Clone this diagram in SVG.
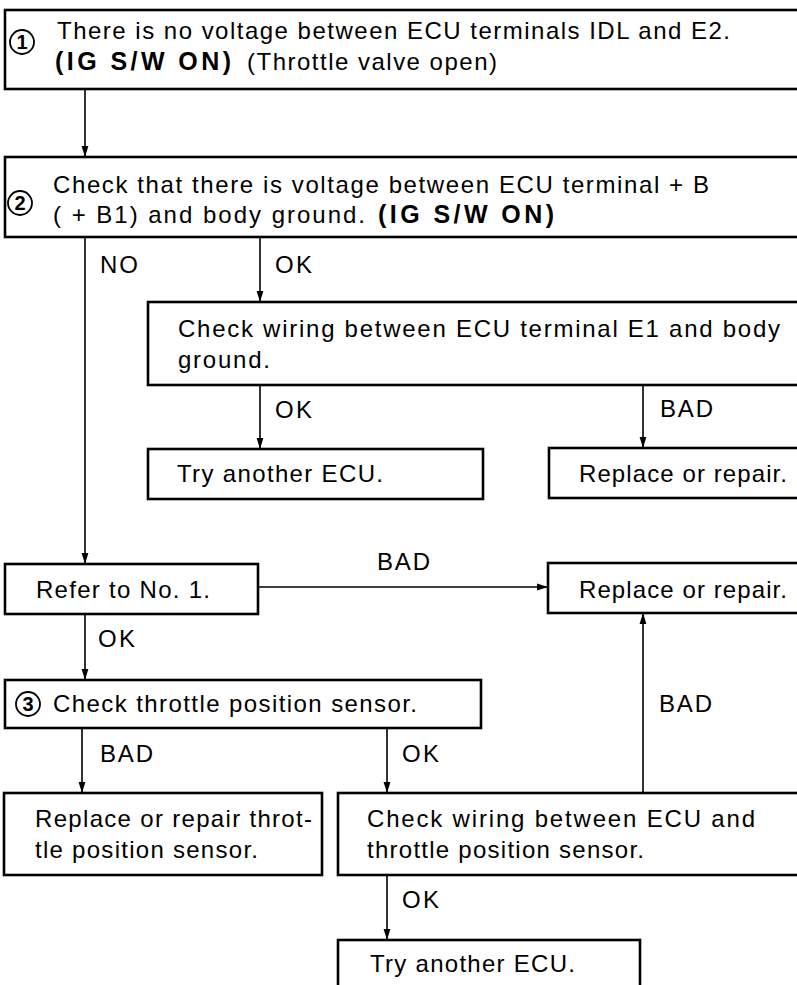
<svg xmlns="http://www.w3.org/2000/svg" width="797" height="985" viewBox="0 0 797 985">
<defs>
<marker id="arr" markerUnits="userSpaceOnUse" markerWidth="12" markerHeight="8" refX="11" refY="4" orient="auto"><path d="M0,0.6 L11,4 L0,7.4 Z" fill="#000"/></marker>
<style>
.box{fill:#fff;stroke:#000;stroke-width:2.6}
.t{font-family:"Liberation Sans",Arial,sans-serif;font-size:24px;fill:#000}
.b{font-weight:bold;font-size:25px}
.ci{fill:none;stroke:#000;stroke-width:1.8}
.n{font-family:"Liberation Sans",Arial,sans-serif;font-size:20px;font-weight:bold;text-anchor:middle;fill:#000}
.ln{stroke:#000;stroke-width:1.6;fill:none}
</style>
</defs>
<rect x="0" y="0" width="797" height="985" fill="#fff"/>

<g id="connectors">
<line class="ln" x1="85" y1="89" x2="85" y2="157" marker-end="url(#arr)"/>
<line class="ln" x1="85" y1="237" x2="85" y2="564" marker-end="url(#arr)"/>
<line class="ln" x1="260" y1="237" x2="260" y2="302" marker-end="url(#arr)"/>
<line class="ln" x1="260" y1="385" x2="260" y2="449" marker-end="url(#arr)"/>
<line class="ln" x1="643" y1="385" x2="643" y2="448" marker-end="url(#arr)"/>
<line class="ln" x1="258" y1="587" x2="548" y2="587" marker-end="url(#arr)"/>
<line class="ln" x1="85" y1="614" x2="85" y2="680" marker-end="url(#arr)"/>
<line class="ln" x1="643" y1="793" x2="643" y2="613" marker-end="url(#arr)"/>
<line class="ln" x1="82" y1="728" x2="82" y2="793" marker-end="url(#arr)"/>
<line class="ln" x1="387" y1="728" x2="387" y2="793" marker-end="url(#arr)"/>
<line class="ln" x1="387" y1="875" x2="387" y2="940" marker-end="url(#arr)"/>
<text class="t" x="100" y="273" textLength="38" lengthAdjust="spacing">NO</text>
<text class="t" x="275" y="273" textLength="37" lengthAdjust="spacing">OK</text>
<text class="t" x="275" y="418" textLength="37" lengthAdjust="spacing">OK</text>
<text class="t" x="660" y="417" textLength="53" lengthAdjust="spacing">BAD</text>
<text class="t" x="377" y="570" textLength="53" lengthAdjust="spacing">BAD</text>
<text class="t" x="98" y="647" textLength="37" lengthAdjust="spacing">OK</text>
<text class="t" x="659" y="712" textLength="53" lengthAdjust="spacing">BAD</text>
<text class="t" x="100" y="762" textLength="53" lengthAdjust="spacing">BAD</text>
<text class="t" x="402" y="762" textLength="37" lengthAdjust="spacing">OK</text>
<text class="t" x="402" y="908" textLength="37" lengthAdjust="spacing">OK</text>
</g>

<g id="n1">
<rect class="box" x="5" y="10" width="800" height="79"/>
<circle class="ci" cx="22" cy="42" r="12"/>
<text class="n" x="22" y="49">1</text>
<text class="t" x="57" y="39" textLength="673" lengthAdjust="spacing">There is no voltage between ECU terminals IDL and E2.</text>
<text class="t b" x="55" y="70" textLength="176" lengthAdjust="spacing">(IG S/W ON)</text>
<text class="t" x="247" y="70" textLength="250" lengthAdjust="spacing">(Throttle valve open)</text>
</g>

<g id="n2">
<rect class="box" x="5" y="157" width="800" height="80"/>
<circle class="ci" cx="20" cy="203" r="12"/>
<text class="n" x="20" y="210">2</text>
<text class="t" x="53" y="193" textLength="656" lengthAdjust="spacing">Check that there is voltage between ECU terminal + B</text>
<text class="t" x="53" y="223" textLength="312" lengthAdjust="spacing">( + B1) and body ground.</text>
<text class="t b" x="378" y="223" textLength="176" lengthAdjust="spacing">(IG S/W ON)</text>
</g>

<g id="n3">
<rect class="box" x="148" y="302" width="660" height="83"/>
<text class="t" x="178" y="337" textLength="602" lengthAdjust="spacing">Check wiring between ECU terminal E1 and body</text>
<text class="t" x="178" y="368" textLength="92" lengthAdjust="spacing">ground.</text>
</g>

<g id="n4">
<rect class="box" x="148" y="449" width="335" height="50"/>
<text class="t" x="177" y="482" textLength="206" lengthAdjust="spacing">Try another ECU.</text>
</g>

<g id="n5">
<rect class="box" x="549" y="448" width="260" height="50"/>
<text class="t" x="579" y="482" textLength="208" lengthAdjust="spacing">Replace or repair.</text>
</g>

<g id="n6">
<rect class="box" x="5" y="564" width="253" height="50"/>
<text class="t" x="36" y="598" textLength="174" lengthAdjust="spacing">Refer to No. 1.</text>
</g>

<g id="n7">
<rect class="box" x="548" y="563" width="260" height="50"/>
<text class="t" x="579" y="598" textLength="208" lengthAdjust="spacing">Replace or repair.</text>
</g>

<g id="n8">
<rect class="box" x="5" y="680" width="476" height="48"/>
<circle class="ci" cx="28" cy="704" r="12"/>
<text class="n" x="28" y="711">3</text>
<text class="t" x="53" y="712" textLength="364" lengthAdjust="spacing">Check throttle position sensor.</text>
</g>

<g id="n9">
<rect class="box" x="4" y="793" width="318" height="82"/>
<text class="t" x="35" y="827" textLength="277" lengthAdjust="spacing">Replace or repair throt-</text>
<text class="t" x="35" y="858" textLength="223" lengthAdjust="spacing">tle position sensor.</text>
</g>

<g id="n10">
<rect class="box" x="338" y="793" width="470" height="82"/>
<text class="t" x="367" y="827" textLength="388" lengthAdjust="spacing">Check wiring between ECU and</text>
<text class="t" x="367" y="858" textLength="277" lengthAdjust="spacing">throttle position sensor.</text>
</g>

<g id="n11">
<rect class="box" x="338" y="940" width="302" height="60"/>
<text class="t" x="370" y="972" textLength="205" lengthAdjust="spacing">Try another ECU.</text>
</g>
</svg>
